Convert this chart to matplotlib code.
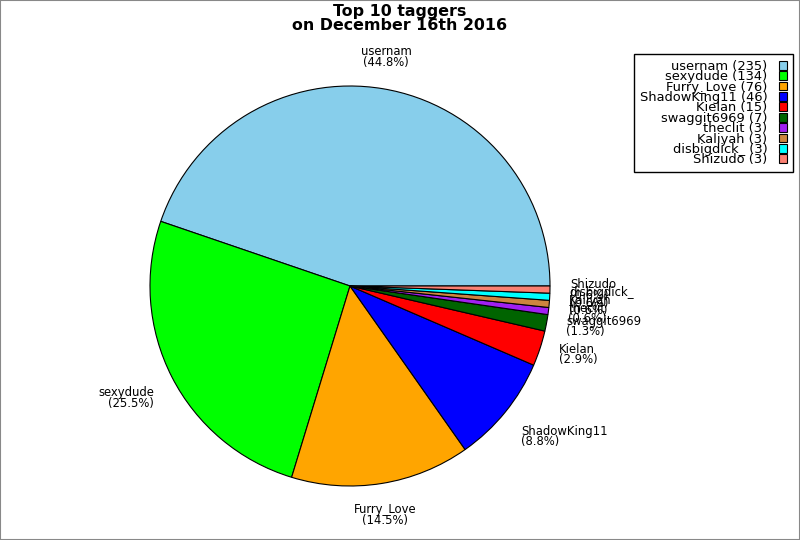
import numpy as np
import matplotlib.pyplot as plt
from matplotlib.patches import Rectangle

names = ['usernam', 'sexydude', 'Furry_Love', 'ShadowKing11', 'Kielan',
         'swaggit6969', 'theclit', 'Kaliyah', 'disbigdick_', 'Shizudo']
counts = [235, 134, 76, 46, 15, 7, 3, 3, 3, 3]
colors = ['#87ceeb', '#00ff00', '#ffa500', '#0000ff', '#ff0000',
          '#006400', '#a020f0', '#cd853f', '#00ffff', '#fa8072']

fig = plt.figure(figsize=(8, 5.4), dpi=100)
ax = fig.add_axes([0, 0, 1, 1])

wedges, _ = ax.pie(counts, colors=colors, startangle=0, counterclock=True,
                   radius=1.0, center=(0, 0), frame=True,
                   wedgeprops=dict(edgecolor='black', linewidth=0.8))
ax.set_xlim(-1.75, 2.25)
ax.set_ylim(-1.27, 1.43)
ax.set_aspect('equal')
ax.axis('off')

# labels outside the pie
total = sum(counts)
for w, name, c in zip(wedges, names, counts):
    ang = np.deg2rad((w.theta1 + w.theta2) / 2)
    cx, sy = np.cos(ang), np.sin(ang)
    if abs(cx) < 0.3:
        ha = 'center'
    else:
        ha = 'left' if cx > 0 else 'right'
    if abs(sy) < 0.4:
        va = 'center'
    else:
        va = 'bottom' if sy > 0 else 'top'
    pct = 100.0 * c / total
    ax.text(1.1 * cx, 1.1 * sy, '%s\n(%.1f%%)' % (name, pct), ha=ha, va=va,
            multialignment=ha, fontsize=8.4, linespacing=0.75)

leg_labels = ['%s (%d)' % (n, c) for n, c in zip(names, counts)]
fig.legend(wedges, leg_labels, loc='upper right',
           bbox_to_anchor=(793 / 800, 1 - 54 / 540), bbox_transform=fig.transFigure,
           borderaxespad=0, markerfirst=False, fontsize=9.4, labelspacing=-0.2,
           handlelength=0.65, handleheight=0.65, handletextpad=0.85,
           borderpad=0.45, fancybox=False, framealpha=1, edgecolor='black')

fig.text(0.5, 1 - 4 / 540, 'Top 10 taggers\non December 16th 2016', ha='center',
         va='top', fontsize=11.4, fontweight='bold', linespacing=0.9)

fig.patches.append(Rectangle((0, 0), 1, 1, transform=fig.transFigure, fill=False,
                             edgecolor='#888888', linewidth=1.5))

fig.savefig('out.png', dpi=100)
